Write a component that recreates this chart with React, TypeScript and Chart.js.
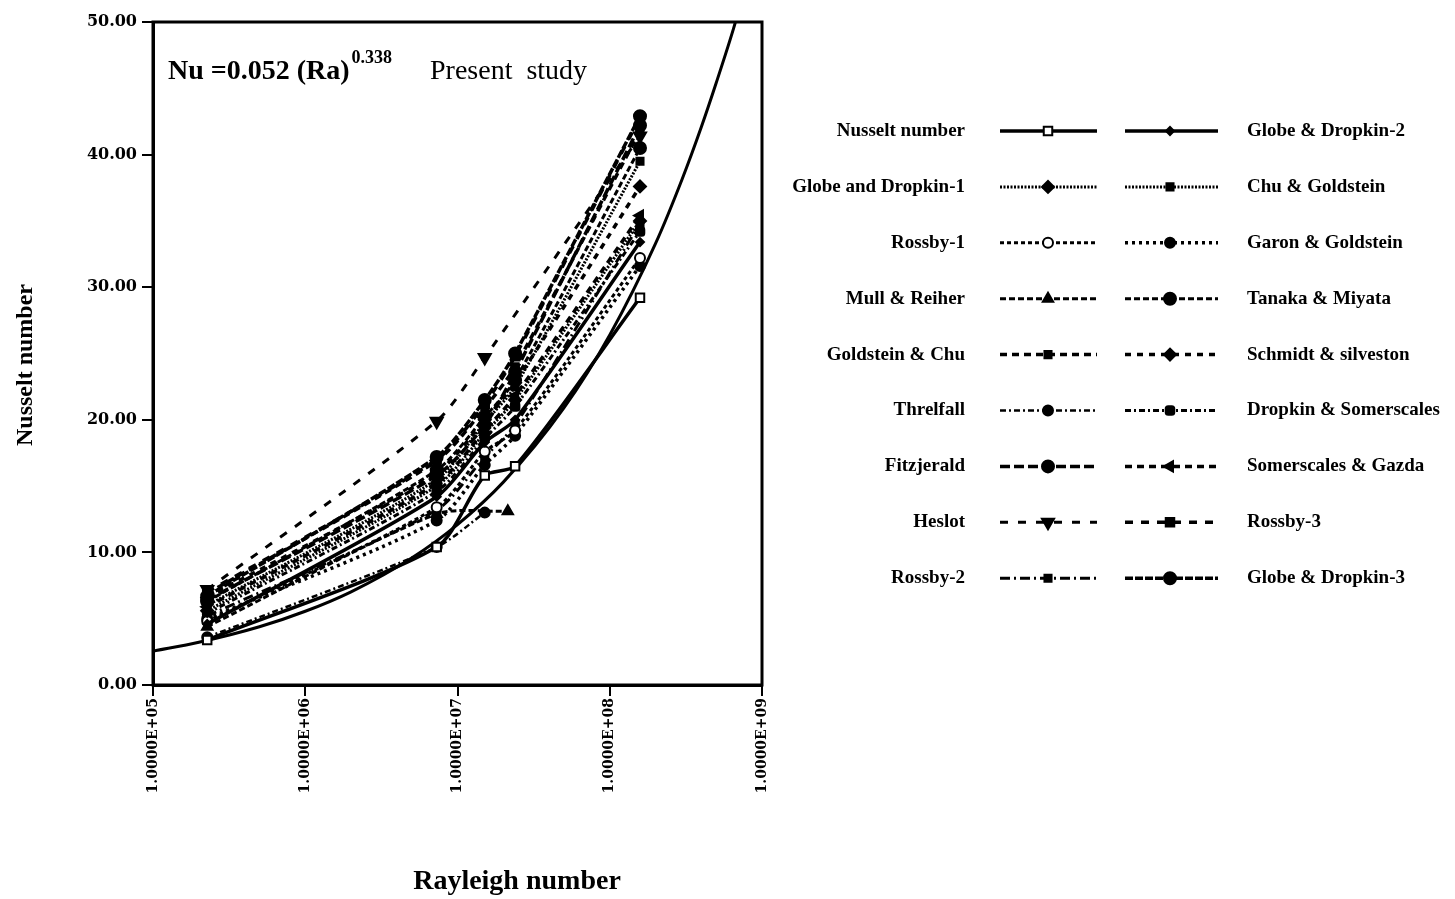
import React, { useEffect, useRef } from "react";
import { Chart, registerables } from "chart.js";
import { drawPoint } from "chart.js/helpers";

Chart.register(...registerables);

// ---------- DATA ----------
const RAYLEIGH = [2.27e5, 7.3e6, 1.51e7, 2.14e7, 2.39e7, 1.58e8];

const SERIES_LABELS = [
  "Nusselt number",
  "Globe & Dropkin-2",
  "Globe and Dropkin-1",
  "Chu & Goldstein",
  "Rossby-1",
  "Garon & Goldstein",
  "Mull & Reiher",
  "Tanaka & Miyata",
  "Goldstein & Chu",
  "Schmidt & silveston",
  "Threlfall",
  "Dropkin & Somerscales",
  "Fitzjerald",
  "Somerscales & Gazda",
  "Heslot",
  "Rossby-3",
  "Rossby-2",
  "Globe & Dropkin-3",
];

const NUSSELT_PRESENT = [3.4, 10.4, 15.8, null, 16.5, 29.2];
const GLOBE_DROPKIN_2 = [4.6, 14.2, 18.3, null, 20.0, 33.4];
const GLOBE_DROPKIN_1 = [5.6, 15.0, 19.0, null, 21.5, 35.0];
const CHU_GOLDSTEIN = [6.0, 15.5, 19.8, null, 22.5, 39.5];
const ROSSBY_1 = [4.8, 13.4, 17.6, null, 19.2, 32.2];
const GARON_GOLDSTEIN = [5.0, 12.4, 16.6, null, 18.8, 31.6];
const MULL_REIHER = [4.4, 12.9, null, 13.1, null, null];
const TANAKA_MIYATA = [6.3, 16.2, 20.2, null, 23.0, 40.5];
const GOLDSTEIN_CHU = [6.9, 16.9, 20.9, null, 24.0, 41.8];
const SCHMIDT_SILVESTON = [6.6, 16.0, 20.0, null, 22.8, 37.6];
const THRELFALL = [3.6, 10.4, 13.0, null, null, null];
const DROPKIN_SOMERSCALES = [5.4, 14.6, 18.6, null, 21.0, 34.2];
const FITZJERALD = [6.4, 15.8, 19.6, null, 23.6, 42.2];
const SOMERSCALES_GAZDA = [5.9, 15.2, 19.2, null, 21.8, 35.4];
const HESLOT = [7.2, 19.9, 24.7, null, null, 41.4];
const ROSSBY_3 = [7.0, 17.0, 21.2, null, 24.8, 42.8];
const ROSSBY_2 = [5.2, 13.2, 17.2, null, 19.6, 34.8];
const GLOBE_DROPKIN_3 = [6.7, 17.2, 21.5, null, 25.0, 42.9];

const SERIES_VALUES = [
  NUSSELT_PRESENT,
  GLOBE_DROPKIN_2,
  GLOBE_DROPKIN_1,
  CHU_GOLDSTEIN,
  ROSSBY_1,
  GARON_GOLDSTEIN,
  MULL_REIHER,
  TANAKA_MIYATA,
  GOLDSTEIN_CHU,
  SCHMIDT_SILVESTON,
  THRELFALL,
  DROPKIN_SOMERSCALES,
  FITZJERALD,
  SOMERSCALES_GAZDA,
  HESLOT,
  ROSSBY_3,
  ROSSBY_2,
  GLOBE_DROPKIN_3,
];

// correlation curve Nu = 0.052 Ra^0.338
const CURVE_RA = [1e5, 2e5, 5e5, 1e6, 2e6, 5e6, 1e7, 2e7, 5e7, 1e8, 2e8, 3e8, 4e8, 5e8, 6.5e8, 7e8];
const CURVE_NU = [2.55, 3.22, 4.39, 5.56, 7.03, 9.58, 12.1, 15.3, 20.9, 26.4, 33.3, 38.2, 42.1, 45.4, 49.5, 50.8];

const X_TICKS = [1e5, 1e6, 1e7, 1e8, 1e9];
const X_TICK_LABELS = ["1.0000E+05", "1.0000E+06", "1.0000E+07", "1.0000E+08", "1.0000E+09"];
const Y_TICK_LABELS = ["0.00", "10.00", "20.00", "30.00", "40.00", "50.00"];

// ---------- STYLES ----------
type Style = {
  dash: number[];
  width: number;
  point: string;
  rot?: number;
  open?: boolean;
  r?: number;
};

const STYLES: Style[] = [
  { dash: [], width: 3.5, point: "rect", open: true, r: 6 },
  { dash: [], width: 3.5, point: "rectRot", r: 4 },
  { dash: [2, 1.5], width: 3, point: "rectRot", r: 6 },
  { dash: [2, 1.5], width: 3, point: "rect", r: 5 },
  { dash: [4, 3], width: 3, point: "circle", open: true, r: 5 },
  { dash: [3, 4], width: 3.5, point: "circle", r: 5 },
  { dash: [6, 3], width: 3, point: "triangle", r: 6 },
  { dash: [6, 3], width: 3, point: "circle", r: 6 },
  { dash: [7, 5], width: 3.5, point: "rect", r: 5 },
  { dash: [6, 6], width: 3.5, point: "rectRot", r: 6 },
  { dash: [6, 3, 2, 3], width: 2.5, point: "circle", r: 5 },
  { dash: [6, 3, 2, 3], width: 3, point: "rectRounded", r: 5 },
  { dash: [10, 4], width: 3.5, point: "circle", r: 6 },
  { dash: [7, 5], width: 3.5, point: "triangle", rot: -90, r: 6 },
  { dash: [8, 10], width: 3, point: "triangle", rot: 180, r: 7 },
  { dash: [8, 8], width: 3.5, point: "rect", r: 6 },
  { dash: [10, 4, 2, 4], width: 3, point: "rect", r: 5 },
  { dash: [8, 2], width: 3.5, point: "circle", r: 6 },
];

const SERIF = '"Liberation Serif", "Times New Roman", serif';
const TICK_FONT = '"DejaVu Serif", serif';

const overlayPlugin = {
  id: "overlay",
  afterDraw(chart: any) {
    const ctx: CanvasRenderingContext2D = chart.ctx;
    const a = chart.chartArea;
    ctx.save();
    ctx.strokeStyle = "#000";
    ctx.setLineDash([]);
    ctx.lineWidth = 3;
    ctx.strokeRect(a.left, a.top, a.right - a.left, a.bottom - a.top);

    // equation annotation
    ctx.fillStyle = "#000";
    ctx.textAlign = "left";
    ctx.textBaseline = "alphabetic";
    let x = a.left + 15;
    const y = 79;
    ctx.font = `bold 28px ${SERIF}`;
    const t1 = "Nu =0.052 (Ra)";
    ctx.fillText(t1, x, y);
    x += ctx.measureText(t1).width + 2;
    ctx.font = `bold 18px ${SERIF}`;
    ctx.fillText("0.338", x, y - 16);
    ctx.font = `28px ${SERIF}`;
    ctx.fillText("Present  study", a.left + 277, y);

    // axis titles
    ctx.font = `bold 28px ${SERIF}`;
    ctx.textAlign = "center";
    ctx.textBaseline = "middle";
    ctx.fillText("Rayleigh number", 517, 882);
    ctx.save();
    ctx.translate(26, 365);
    ctx.rotate(-Math.PI / 2);
    ctx.font = `bold 24px ${SERIF}`;
    ctx.fillText("Nusselt number", 0, 0);
    ctx.restore();

    // legend
    const rowY0 = 131;
    const rowGap = 55.9;
    const cols = [
      { x0: 1000, x1: 1097, mx: 1048, tx: 965, align: "right" as CanvasTextAlign },
      { x0: 1125, x1: 1218, mx: 1170, tx: 1247, align: "left" as CanvasTextAlign },
    ];
    ctx.font = `bold 19px ${SERIF}`;
    ctx.textBaseline = "middle";
    SERIES_LABELS.forEach((label, i) => {
      const st = STYLES[i];
      const row = Math.floor(i / 2);
      const c = cols[i % 2];
      const yy = rowY0 + row * rowGap;
      ctx.strokeStyle = "#000";
      ctx.lineWidth = st.width;
      ctx.setLineDash(st.dash);
      ctx.beginPath();
      ctx.moveTo(c.x0, yy);
      ctx.lineTo(c.x1, yy);
      ctx.stroke();
      ctx.setLineDash([]);
      ctx.fillStyle = st.open ? "#fff" : "#000";
      ctx.lineWidth = 2;
      drawPoint(ctx, { pointStyle: st.point as any, rotation: st.rot || 0, radius: st.r || 5, borderWidth: 2 }, c.mx, yy);
      ctx.fillStyle = "#000";
      ctx.textAlign = c.align;
      ctx.fillText(label, c.tx, yy);
    });
    ctx.restore();
  },
};

export default function App() {
  const ref = useRef<HTMLCanvasElement | null>(null);

  useEffect(() => {
    document.body.style.margin = "0";
    if (!ref.current) return;

    const datasets: any[] = SERIES_LABELS.map((label, i) => {
      const st = STYLES[i];
      return {
        label,
        data: RAYLEIGH.map((ra, k) => ({ x: ra, y: SERIES_VALUES[i][k] })),
        borderColor: "#000",
        backgroundColor: "#000",
        borderWidth: st.width,
        borderDash: st.dash,
        pointStyle: st.point,
        pointRotation: st.rot || 0,
        pointRadius: st.r || 5,
        pointBorderWidth: 2,
        pointBorderColor: "#000",
        pointBackgroundColor: st.open ? "#fff" : "#000",
        tension: 0.25,
        spanGaps: true,
      };
    });
    datasets.push({
      label: "Nu = 0.052 (Ra)^0.338",
      data: CURVE_RA.map((ra, k) => ({ x: ra, y: CURVE_NU[k] })),
      borderColor: "#000",
      borderWidth: 3,
      pointRadius: 0,
      cubicInterpolationMode: "monotone",
    });

    const chart = new Chart(ref.current, {
      type: "line",
      data: { datasets },
      options: {
        animation: false,
        responsive: true,
        maintainAspectRatio: false,
        layout: { padding: { left: 0, top: 22, right: 693, bottom: 0 } },
        plugins: { legend: { display: false }, title: { display: false }, tooltip: { enabled: false } },
        scales: {
          x: {
            type: "logarithmic",
            min: 1e5,
            max: 1e9,
            afterBuildTicks: (scale: any) => {
              scale.ticks = X_TICKS.map((v) => ({ value: v }));
            },
            afterFit: (scale: any) => {
              scale.height = 214;
            },
            ticks: {
              autoSkip: false,
              minRotation: 90,
              maxRotation: 90,
              padding: 2,
              color: "#000",
              font: { family: TICK_FONT, size: 14, weight: "bold" },
              callback: (v: any) => {
                const idx = X_TICKS.indexOf(Number(v));
                return idx >= 0 ? X_TICK_LABELS[idx] : "";
              },
            },
            grid: { display: true, drawOnChartArea: false, drawTicks: true, tickLength: 11, color: "#000", lineWidth: 2 },
            border: { display: true, color: "#000", width: 3 },
          },
          y: {
            type: "linear",
            min: 0,
            max: 50,
            afterFit: (scale: any) => {
              scale.width = 153;
            },
            ticks: {
              stepSize: 10,
              padding: 5,
              color: "#000",
              font: { family: TICK_FONT, size: 16, weight: "bold" },
              callback: (v: any) => Y_TICK_LABELS[Math.round(Number(v) / 10)] ?? "",
            },
            grid: { display: true, drawOnChartArea: false, drawTicks: true, tickLength: 11, color: "#000", lineWidth: 2 },
            border: { display: true, color: "#000", width: 3 },
          },
        },
      },
      plugins: [overlayPlugin],
    });
    return () => chart.destroy();
  }, []);

  return (
    <div style={{ width: 1455, height: 899, position: "relative", background: "#fff" }}>
      <canvas ref={ref} />
    </div>
  );
}
